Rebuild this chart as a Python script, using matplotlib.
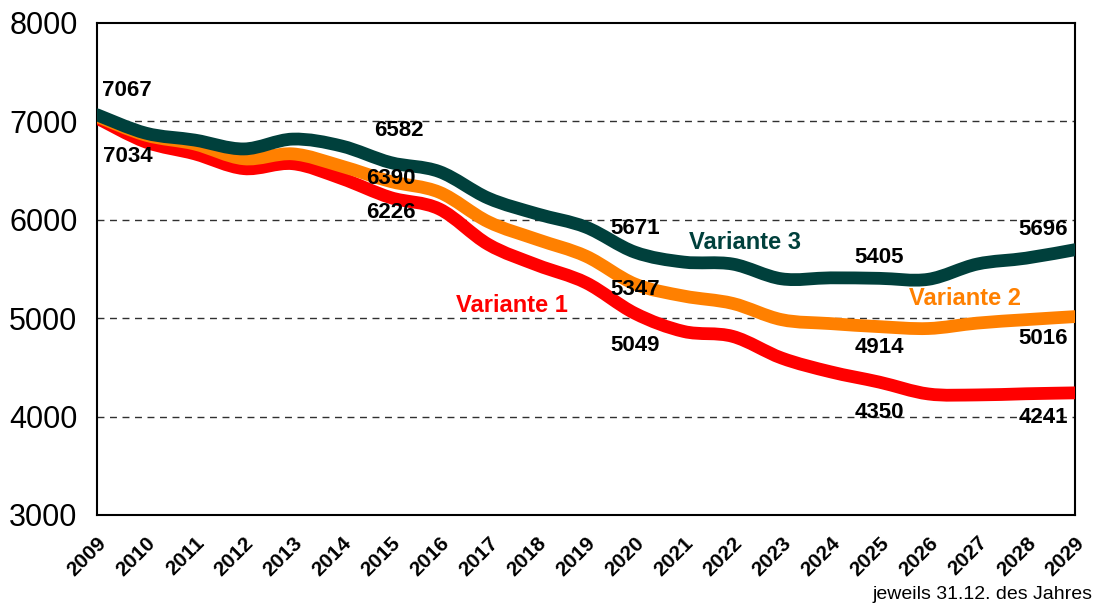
import numpy as np
import matplotlib
matplotlib.use("Agg")
import matplotlib.pyplot as plt
from matplotlib.path import Path
from matplotlib.patches import PathPatch

plt.rcParams['font.family'] = ['Liberation Sans', 'DejaVu Sans']

years = list(range(2009, 2030))
variante_1 = [7034, 6790, 6670, 6520, 6570, 6420, 6226, 6110, 5750, 5540, 5360,
              5049, 4865, 4815, 4595, 4455, 4350, 4230, 4220, 4232, 4241]
variante_2 = [7050, 6860, 6770, 6620, 6670, 6545, 6390, 6280, 5980, 5800, 5630,
              5347, 5225, 5150, 4985, 4945, 4914, 4895, 4950, 4985, 5016]
variante_3 = [7067, 6880, 6810, 6720, 6820, 6750, 6582, 6490, 6220, 6060, 5925,
              5671, 5570, 5550, 5400, 5410, 5405, 5395, 5550, 5610, 5696]
series_names = ['Variante 1', 'Variante 2', 'Variante 3']
series_colors = ['#FF0000', '#FF8000', '#00403C']
label_years = [2009, 2015, 2020, 2025, 2029]
y_ticks = [3000, 4000, 5000, 6000, 7000, 8000]


def smooth_path(xs, ys):
    # Excel-style smoothed line: Catmull-Rom segments as cubic Beziers
    pts = np.column_stack([xs, ys]).astype(float)
    verts = [pts[0]]
    codes = [Path.MOVETO]
    n = len(pts)
    for i in range(n - 1):
        p0 = pts[i - 1] if i > 0 else pts[i]
        p1, p2 = pts[i], pts[i + 1]
        p3 = pts[i + 2] if i + 2 < n else pts[i + 1]
        verts += [p1 + (p2 - p0) / 6, p2 - (p3 - p1) / 6, p2]
        codes += [Path.CURVE4] * 3
    return Path(verts, codes)


fig = plt.figure(figsize=(10.95, 6.05), dpi=100)
ax = fig.add_axes([0.0886, 0.1488, 0.8931, 0.8132])

all_series = [variante_1, variante_2, variante_3]
for k, (vals, col) in enumerate(zip(all_series, series_colors)):
    patch = PathPatch(smooth_path(years, vals), fill=False, edgecolor=col,
                      lw=9.2, capstyle='round', joinstyle='round', zorder=3 + k)
    ax.add_patch(patch)

ax.set_xlim(2009, 2029)
ax.set_ylim(3000, 8000)
ax.set_yticks(y_ticks)
ax.set_xticks(years)
ax.set_xticklabels([str(y) for y in years], rotation=45, ha='right',
                   rotation_mode='anchor', fontsize=15, fontweight='bold')
ax.tick_params(axis='x', length=0, pad=13)
ax.tick_params(axis='y', length=0, labelsize=22, pad=14)
for y in y_ticks[1:-1]:
    ax.axhline(y, color='#303030', lw=1, ls=(0, (5, 4)), zorder=1)
for s in ax.spines.values():
    s.set_linewidth(1.5)
    s.set_color('black')

# data labels (pixel offsets relative to the point)
offsets = {
    2: {2009: (30, 24), 2015: (8, 32), 2020: (0, 24), 2025: (0, 21), 2029: (-32, 20)},
    1: {2009: (31, 0), 2015: (0, 3), 2020: (0, -5), 2025: (0, -21), 2029: (-32, -22)},
    0: {2009: (31, -38), 2015: (0, -15), 2020: (0, -32), 2025: (0, -30), 2029: (-32, -25)},
}
for k, vals in enumerate(all_series):
    for yr in label_years:
        if k == 1 and yr == 2009:
            continue
        v = vals[years.index(yr)]
        dx, dy = offsets[k][yr]
        ax.annotate(str(v), (yr, v), xytext=(dx, dy), textcoords='offset pixels',
                    ha='center', va='center', fontsize=16, fontweight='bold',
                    color='black', zorder=10)

# series names
ax.text(2022.25, 5774, series_names[2], color=series_colors[2], fontsize=17,
        fontweight='bold', ha='center', va='center')
ax.text(2026.75, 5205, series_names[1], color=series_colors[1], fontsize=17,
        fontweight='bold', ha='center', va='center')
ax.text(2017.49, 5124, series_names[0], color=series_colors[0], fontsize=17,
        fontweight='bold', ha='center', va='center')

fig.text(0.998, 0.003, 'jeweils 31.12. des Jahres', ha='right', va='bottom', fontsize=14)

fig.savefig('out.png', dpi=100)
